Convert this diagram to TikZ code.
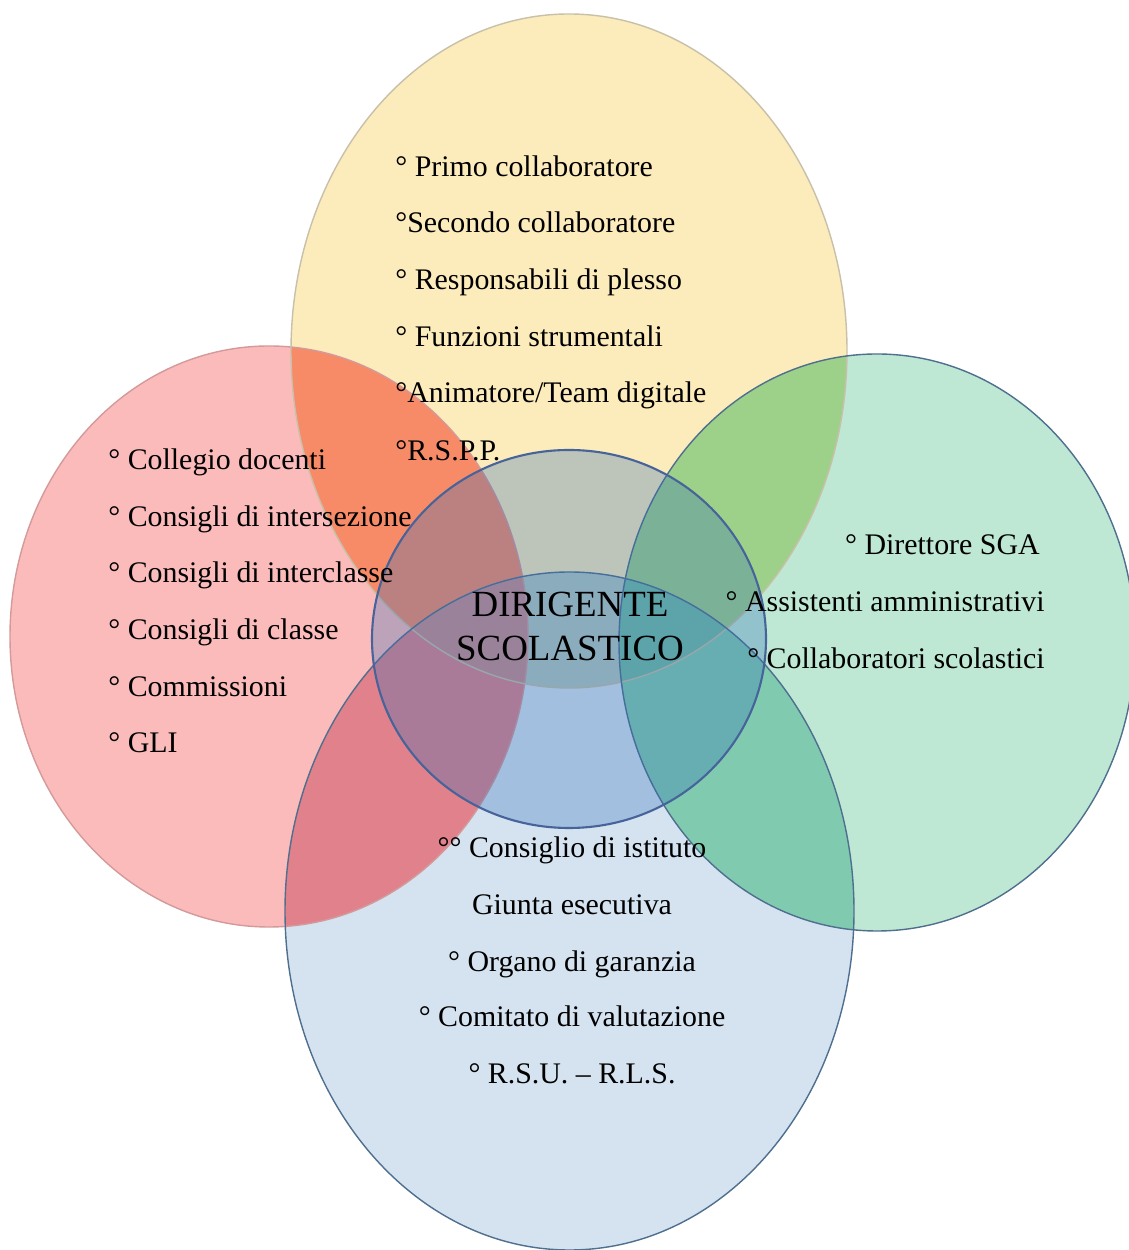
\documentclass[tikz,border=0pt]{standalone}
\usepackage{fontspec}
\setmainfont{Liberation Serif}
\definecolor{giallo}{HTML}{FCEBBB}
\definecolor{rosa}{HTML}{FBBBBB}
\definecolor{verde}{HTML}{BEE8D4}
\definecolor{azzurro}{HTML}{D5E3F1}
\definecolor{arancio}{HTML}{F78B68}
\definecolor{verdechiaro}{HTML}{9DD18A}
\definecolor{rossoscuro}{HTML}{E0818C}
\definecolor{acqua}{HTML}{80CBB0}
\definecolor{grigioverde}{HTML}{B4C8C0}
\definecolor{malva}{HTML}{CA8E8E}
\definecolor{petrolio}{HTML}{72BBA5}
\definecolor{blucentro}{HTML}{2E6CB8}
\definecolor{bordoblu}{HTML}{4F6F8F}
\definecolor{bordorosa}{HTML}{D49A9A}
\definecolor{bordogiallo}{HTML}{C8C0A8}
\begin{document}
\begin{tikzpicture}[line join=round,line cap=round,
	voce/.style={font=\fontsize{17}{20}\selectfont,inner sep=0pt},
	bordo/.style={draw=#1,line width=0.8pt}]
	\def\ellTop{(11.38,17.98) ellipse (5.56 and 6.74)}
	\def\ellLeft{(5.38,12.27) ellipse (5.18 and 5.81)}
	\def\ellRight{(17.54,12.15) ellipse (5.16 and 5.77)}
	\def\ellBottom{(11.39,6.78) ellipse (5.69 and 6.78)}
	\def\ellCenter{(11.38,12.22) ellipse (3.94 and 3.78)}
	\useasboundingbox (0,0) rectangle (22.58,25);
	% single areas
	\fill[rosa] \ellLeft;
	\fill[giallo] \ellTop;
	\fill[verde] \ellRight;
	\fill[azzurro] \ellBottom;
	% overlaps of two
	\begin{scope}\clip \ellTop; \fill[arancio] \ellLeft; \end{scope}
	\begin{scope}\clip \ellTop; \fill[verdechiaro] \ellRight; \end{scope}
	\begin{scope}\clip \ellLeft; \fill[rossoscuro] \ellBottom; \end{scope}
	\begin{scope}\clip \ellRight; \fill[acqua] \ellBottom; \end{scope}
	\begin{scope}\clip \ellTop; \fill[grigioverde] \ellBottom; \end{scope}
	% overlaps of three
	\begin{scope}\clip \ellTop; \clip \ellBottom; \fill[malva] \ellLeft; \end{scope}
	\begin{scope}\clip \ellTop; \clip \ellBottom; \fill[petrolio] \ellRight; \end{scope}
	% outlines
	\draw[bordo=bordorosa] \ellLeft;
	\draw[bordo=bordogiallo] \ellTop;
	\draw[bordo=bordoblu] \ellRight;
	\draw[bordo=bordoblu] \ellBottom;
	% centre
	\fill[blucentro,fill opacity=0.3] \ellCenter;
	\draw[bordoblu!90!blue,line width=1.2pt] \ellCenter;
	\node[align=center,font=\fontsize{21}{25.5}\selectfont,inner sep=0pt] (ds) at (11.40,12.47) {DIRIGENTE\\SCOLASTICO};
	% top
	\node[voce,anchor=base west] (t1) at (7.90,21.46) {° Primo collaboratore};
	\node[voce,anchor=base west] (t2) at (7.90,20.34) {°Secondo collaboratore};
	\node[voce,anchor=base west] (t3) at (7.90,19.20) {° Responsabili di plesso};
	\node[voce,anchor=base west] (t4) at (7.90,18.06) {° Funzioni strumentali};
	\node[voce,anchor=base west] (t5) at (7.90,16.94) {°Animatore/Team digitale};
	\node[voce,anchor=base west] (t6) at (7.90,15.78) {°R.S.P.P.};
	% left
	\node[voce,anchor=base west] (l1) at (2.16,15.60) {° Collegio docenti};
	\node[voce,anchor=base west] (l2) at (2.16,14.46) {° Consigli di intersezione};
	\node[voce,anchor=base west] (l3) at (2.16,13.34) {° Consigli di interclasse};
	\node[voce,anchor=base west] (l4) at (2.16,12.20) {° Consigli di classe};
	\node[voce,anchor=base west] (l5) at (2.16,11.06) {° Commissioni};
	\node[voce,anchor=base west] (l6) at (2.16,9.94) {° GLI};
	% right
	\node[voce,anchor=base east] (r1) at (20.80,13.90) {° Direttore SGA};
	\node[voce,anchor=base east] (r2) at (20.90,12.76) {° Assistenti amministrativi};
	\node[voce,anchor=base east] (r3) at (20.90,11.62) {° Collaboratori scolastici};
	% bottom
	\node[voce,anchor=base] (b1) at (11.44,7.84) {°° Consiglio di istituto};
	\node[voce,anchor=base] (b2) at (11.44,6.70) {Giunta esecutiva};
	\node[voce,anchor=base] (b3) at (11.44,5.56) {° Organo di garanzia};
	\node[voce,anchor=base] (b4) at (11.44,4.46) {° Comitato di valutazione};
	\node[voce,anchor=base] (b5) at (11.44,3.32) {° R.S.U. -- R.L.S.};
\end{tikzpicture}
\end{document}
